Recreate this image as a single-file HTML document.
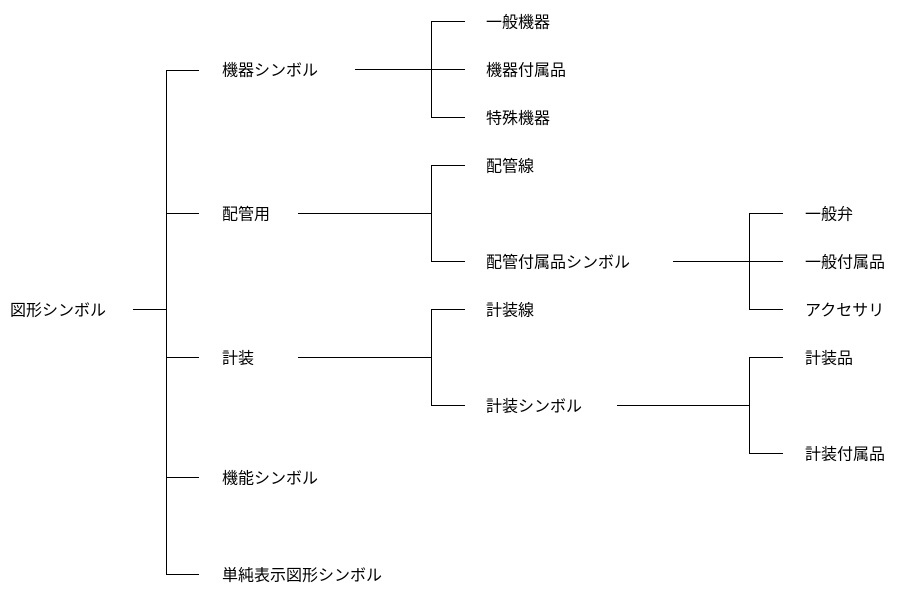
<!DOCTYPE html>
<html>
<head>
<meta charset="utf-8">
<style>
html,body{margin:0;padding:0;background:#fff;}
svg{display:block;}
text{font-family:"Liberation Sans","Noto Sans CJK JP",sans-serif;font-size:16px;fill:#000;dominant-baseline:central;}
</style>
</head>
<body>
<svg width="909" height="600" viewBox="0 0 909 600" xmlns="http://www.w3.org/2000/svg">
<g stroke="#000" stroke-width="1" fill="none" shape-rendering="crispEdges">
  <path d="M133 309.5 H166.5"/>
  <path d="M166.5 70 V575"/>
  <path d="M166.5 70.5 H199"/>
  <path d="M166.5 213.5 H199"/>
  <path d="M166.5 357.5 H199"/>
  <path d="M166.5 477.5 H199"/>
  <path d="M166.5 574.5 H199"/>
  <path d="M355 69.5 H431.5"/>
  <path d="M431.5 21 V118"/>
  <path d="M431.5 21.5 H465"/>
  <path d="M431.5 69.5 H465"/>
  <path d="M431.5 117.5 H465"/>
  <path d="M298 213.5 H431.5"/>
  <path d="M431.5 165 V262"/>
  <path d="M431.5 165.5 H465"/>
  <path d="M431.5 261.5 H465"/>
  <path d="M298 357.5 H431.5"/>
  <path d="M431.5 309 V406"/>
  <path d="M431.5 309.5 H465"/>
  <path d="M431.5 405.5 H465"/>
  <path d="M673 261.5 H749.5"/>
  <path d="M749.5 213 V310"/>
  <path d="M749.5 213.5 H783"/>
  <path d="M749.5 261.5 H783"/>
  <path d="M749.5 309.5 H783"/>
  <path d="M617 405.5 H749.5"/>
  <path d="M749.5 357 V454"/>
  <path d="M749.5 357.5 H783"/>
  <path d="M749.5 453.5 H783"/>
</g>
<text x="10" y="311">図形シンボル</text>
<text x="222" y="71">機器シンボル</text>
<text x="222" y="215">配管用</text>
<text x="222" y="359">計装</text>
<text x="222" y="479">機能シンボル</text>
<text x="222" y="576">単純表示図形シンボル</text>
<text x="486" y="23">一般機器</text>
<text x="486" y="71">機器付属品</text>
<text x="486" y="119">特殊機器</text>
<text x="486" y="167">配管線</text>
<text x="486" y="263">配管付属品シンボル</text>
<text x="486" y="311">計装線</text>
<text x="486" y="407">計装シンボル</text>
<text x="805" y="215">一般弁</text>
<text x="805" y="263">一般付属品</text>
<text x="805" y="311">アクセサリ</text>
<text x="805" y="359">計装品</text>
<text x="805" y="455">計装付属品</text>
</svg>
</body>
</html>
